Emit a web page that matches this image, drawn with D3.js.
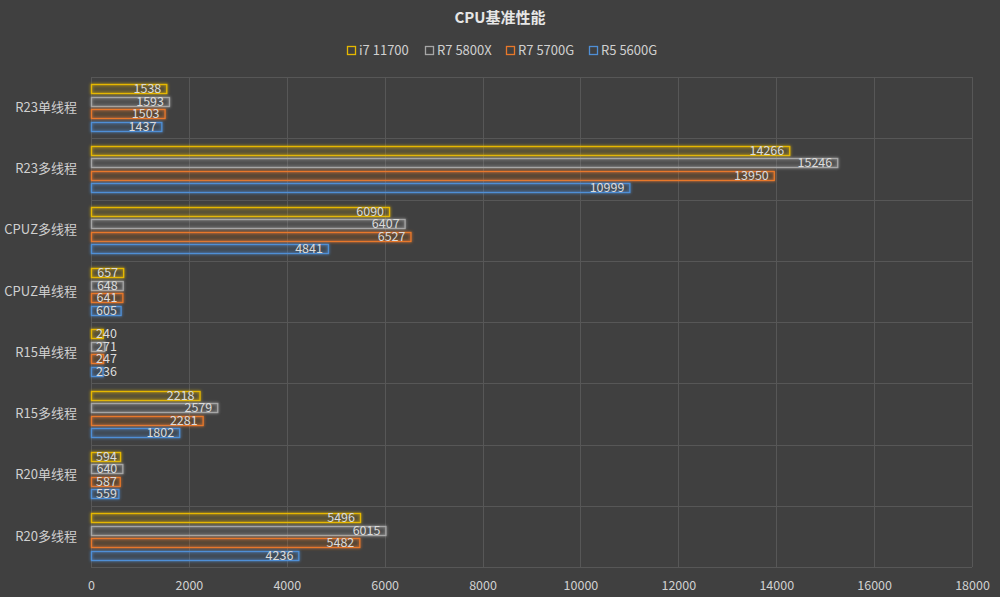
<!DOCTYPE html>
<html><head><meta charset="utf-8">
<script src="https://cdn.jsdelivr.net/npm/d3@7"></script>
<style>
body{margin:0;background:#404040;}
svg{display:block;}
text{font-family:"Microsoft YaHei","Noto Sans CJK SC","Noto Sans",sans-serif;}
</style></head><body>
<svg id="c" width="1000" height="597"></svg>
<script>
const categories = ["R23单线程","R23多线程","CPUZ多线程","CPUZ单线程","R15单线程","R15多线程","R20单线程","R20多线程"];
const seriesNames = ["i7 11700","R7 5800X","R7 5700G","R5 5600G"];
const i7_11700 = [1538,14266,6090,657,240,2218,594,5496];
const r7_5800x = [1593,15246,6407,648,271,2579,640,6015];
const r7_5700g = [1503,13950,6527,641,247,2281,587,5482];
const r5_5600g = [1437,10999,4841,605,236,1802,559,4236];
const xTicks = [0,2000,4000,6000,8000,10000,12000,14000,16000,18000];
const colors = ["#e6b800","#a6a6a6","#e8782a","#4f8fd6"];

const FONT='"Microsoft YaHei","Noto Sans CJK SC","Noto Sans",sans-serif';
const series = [i7_11700, r7_5800x, r7_5700g, r5_5600g];
const svg = d3.select("#c");
const W=1000,H=597;
const x = d3.scaleLinear().domain([0,18000]).range([91,972]);
const y = d3.scaleBand().domain(categories).range([77,567]);
const inner = d3.scaleBand().domain(d3.range(4)).range([0,y.bandwidth()]).paddingInner(0.3).paddingOuter(0.6);

const defs = svg.append("defs");
const f = defs.append("filter").attr("id","glow").attr("x","-20%").attr("y","-100%").attr("width","140%").attr("height","300%");
f.append("feGaussianBlur").attr("in","SourceGraphic").attr("stdDeviation",1.6).attr("result","b");
const fm=f.append("feMerge"); fm.append("feMergeNode").attr("in","b"); fm.append("feMergeNode").attr("in","SourceGraphic");

svg.append("rect").attr("width",W).attr("height",H).attr("fill","#404040");

// title
svg.append("text").attr("x",500).attr("y",23).attr("text-anchor","middle").attr("fill","#e6e6e6")
  .attr("font-size",15).attr("font-weight","bold").text("CPU基准性能");

// legend
const legX=[347,425,506,589];
seriesNames.forEach((n,i)=>{
  const g=svg.append("g").attr("transform",`translate(${legX[i]},46)`);
  g.append("rect").attr("x",0.5).attr("y",0.5).attr("width",8).attr("height",8).attr("fill","none").attr("stroke",colors[i]).attr("stroke-width",1.3);
  g.append("text").attr("x",12).attr("y",9).attr("font-size",13).attr("fill","#d0d0d0").text(n);
});

// grid vertical
svg.append("g").selectAll("line").data(xTicks).join("line")
  .attr("x1",d=>Math.round(x(d))+0.5).attr("x2",d=>Math.round(x(d))+0.5).attr("y1",77).attr("y2",567)
  .attr("stroke","#575757").attr("stroke-width",1);
// horizontal separators
const seps = categories.map(c=>y(c)).concat([y.range()[1]]);
svg.append("g").selectAll("line").data(seps).join("line")
  .attr("x1",91).attr("x2",972).attr("y1",d=>Math.round(d)+0.5).attr("y2",d=>Math.round(d)+0.5)
  .attr("stroke","#575757").attr("stroke-width",1);

// x axis labels
const xa = d3.axisBottom(x).tickValues(xTicks).tickFormat(d3.format("d")).tickSize(0).tickPadding(8);
const xg = svg.append("g").attr("transform","translate(0,573)").call(xa);
xg.select(".domain").remove();
xg.selectAll("text").attr("fill","#d0d0d0").attr("font-size",12.5).attr("font-family",FONT);

// y axis labels
const ya = d3.axisLeft(y).tickSize(0).tickPadding(14);
const yg = svg.append("g").attr("transform","translate(91,0)").call(ya);
yg.select(".domain").remove();
yg.selectAll("text").attr("fill","#d0d0d0").attr("font-size",13).attr("font-family",FONT);

// bars
const bh=9;
categories.forEach((c,ci)=>{
  series.forEach((s,si)=>{
    const v=s[ci];
    const cy = y(c)+inner(si)+inner.bandwidth()/2;
    const y0 = Math.round(cy-bh/2)+0.5;
    svg.append("rect").attr("x",x(0)+0.5).attr("y",y0).attr("width",x(v)-x(0)).attr("height",bh)
      .attr("fill",colors[si]).attr("fill-opacity",0.08)
      .attr("stroke",colors[si]).attr("stroke-width",1.3).attr("filter","url(#glow)");
    const t = svg.append("text").attr("y",y0+bh/2+4.3).attr("font-size",12.5).attr("fill","#dcdcdc")
      .attr("text-anchor","start").text(v);
    const tw = t.node().getComputedTextLength();
    let tx = x(v)-5-tw;
    if (tx < x(0)+5) tx = x(0)+5;
    t.attr("x",tx);
  });
});
</script></body></html>
